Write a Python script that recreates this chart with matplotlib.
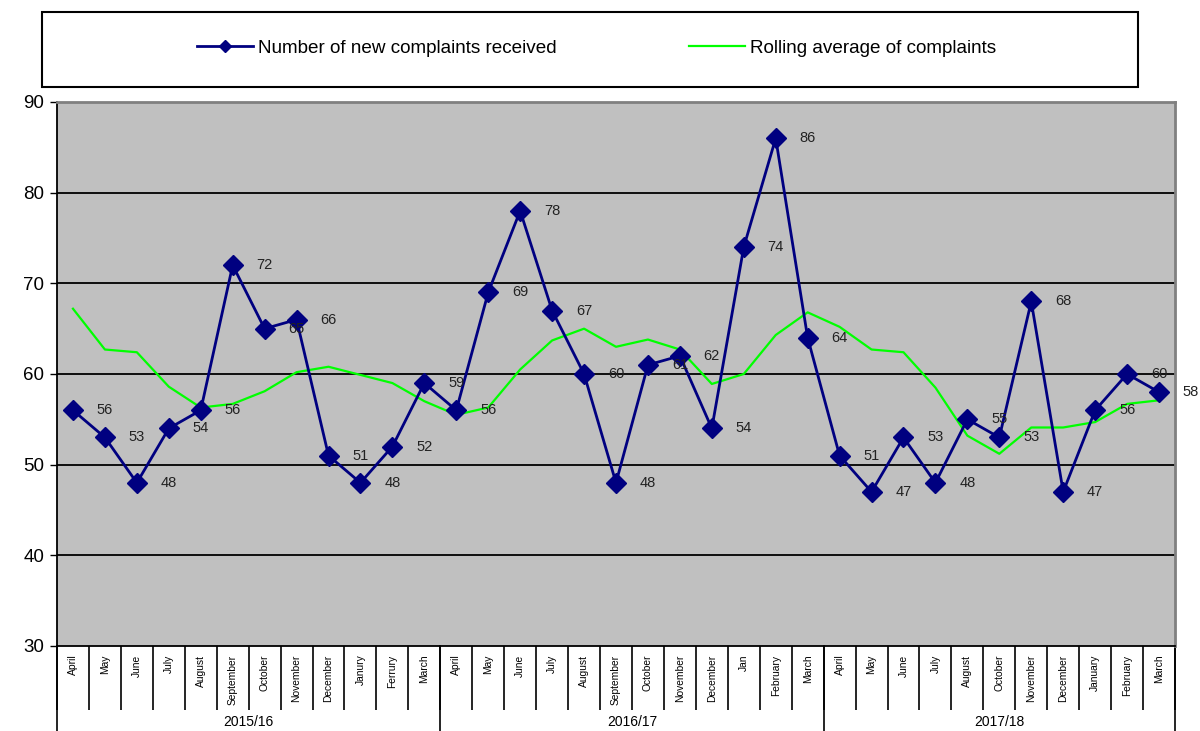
import matplotlib
matplotlib.use("Agg")
import matplotlib.pyplot as plt
import matplotlib.transforms as mtransforms
from matplotlib.patches import Rectangle
import numpy as np

plt.rcParams['font.family'] = ['Liberation Sans', 'DejaVu Sans']

# data
months = ['April', 'May', 'June', 'July', 'August', 'September', 'October', 'November',
          'December', 'Janury', 'Ferrury', 'March',
          'April', 'May', 'June', 'July', 'August', 'September', 'October', 'November',
          'December', 'Jan', 'February', 'March',
          'April', 'May', 'June', 'July', 'August', 'October', 'November',
          'December', 'January', 'February', 'March']
years = ['2015/16', '2016/17', '2017/18']
year_sizes = [12, 12, 11]
complaints = [56, 53, 48, 54, 56, 72, 65, 66, 51, 48, 52, 59,
              56, 69, 78, 67, 60, 48, 61, 62, 54, 74, 86, 64,
              51, 47, 53, 48, 55, 53, 68, 47, 56, 60, 58]
rolling = [67.2, 62.7, 62.4, 58.6, 56.3, 56.7, 58.1, 60.2, 60.8, 59.9, 59.0, 57.0,
           55.5, 56.3, 60.5, 63.7, 65.0, 63.0, 63.8, 62.7, 58.9, 60.0, 64.3, 66.8,
           65.2, 62.7, 62.4, 58.5, 53.2, 51.2, 54.1, 54.1, 54.7, 56.7, 57.1]

x = np.arange(len(months))

fig = plt.figure(figsize=(12, 7.31), dpi=100)
ax = fig.add_axes([57/1200, 1-646/731, (1175-57)/1200, (646-102)/731])
ax.set_facecolor('#C0C0C0')

for g in [40, 50, 60, 70, 80]:
    ax.axhline(g, color='black', lw=1.3, zorder=1)

line1, = ax.plot(x, complaints, color='#000080', lw=2, marker='D', ms=10,
                 mec='#000080', mfc='#000080', zorder=4,
                 label='Number of new complaints received')
line2, = ax.plot(x, rolling, color='#00FF00', lw=1.6, zorder=3,
                 label='Rolling average of complaints')

for xi, v in zip(x, complaints):
    ax.annotate(str(v), (xi, v), xytext=(23, 0), textcoords='offset points',
                ha='center', va='center', fontsize=10.5, color='#222222', zorder=5)

ax.set_xlim(-0.5, len(months) - 0.5)
ax.set_ylim(30, 90)
ax.set_yticks(range(30, 91, 10))
ax.tick_params(axis='y', labelsize=13.5, length=5, width=1, pad=4)
ax.set_xticks(np.arange(-0.5, len(months), 1))
ax.set_xticklabels([])
ax.tick_params(axis='x', length=46, width=1.2, direction='out')

for s in ['left', 'bottom']:
    ax.spines[s].set_color('black')
    ax.spines[s].set_linewidth(1.3)
for s in ['top', 'right']:
    ax.spines[s].set_color('#808080')
    ax.spines[s].set_linewidth(2)

trans = mtransforms.blended_transform_factory(ax.transData, ax.transAxes)
for xi, m in zip(x, months):
    ax.text(xi, -0.016, m, transform=trans, rotation=90, ha='center', va='top',
            fontsize=7.4)

start = -0.5
for yr, n in zip(years, year_sizes):
    ax.plot([start, start], [0, -0.16], transform=trans, color='black', lw=1.2, clip_on=False)
    ax.text(start + n / 2, -0.14, yr, transform=trans, ha='center', va='center', fontsize=10)
    start += n
ax.plot([start, start], [0, -0.16], transform=trans, color='black', lw=1.2, clip_on=False)

# legend box
fig.patches.append(Rectangle((42/1200, 1-87/731), (1138-42)/1200, 75/731,
                             transform=fig.transFigure, fill=False, edgecolor='black', lw=1.5))
fig.legend(handles=[line1, line2], loc='center', bbox_to_anchor=(0.497, 1-48/731),
           ncol=2, frameon=False, fontsize=13.6, columnspacing=7.0, handlelength=3.0,
           handletextpad=0.25, markerscale=0.6)

fig.savefig('out.png', dpi=100)
